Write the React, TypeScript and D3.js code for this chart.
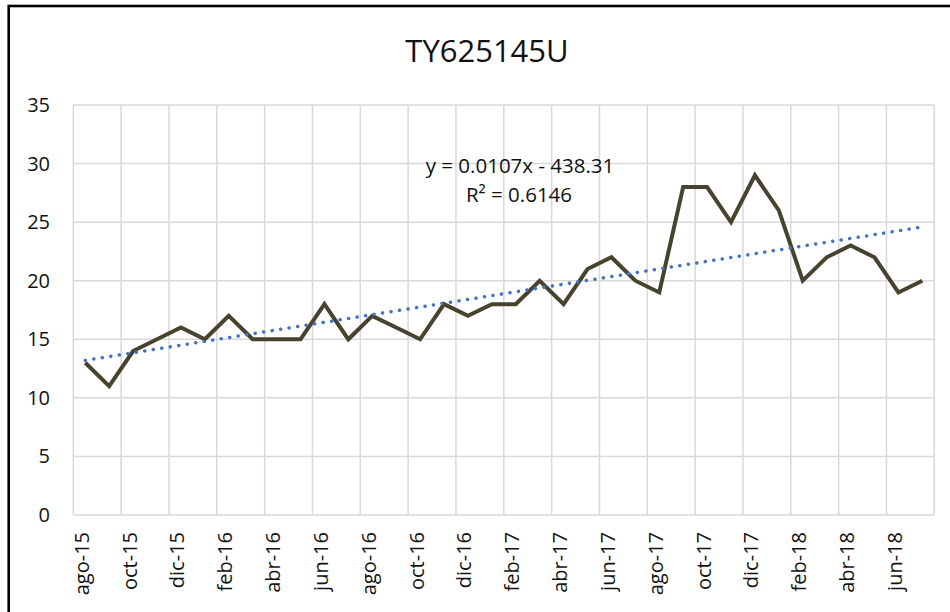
import React from "react";
import * as d3 from "d3";

const title = "TY625145U";
const months = [
  "ago-15","sep-15","oct-15","nov-15","dic-15","ene-16","feb-16","mar-16","abr-16","may-16","jun-16","jul-16",
  "ago-16","sep-16","oct-16","nov-16","dic-16","ene-17","feb-17","mar-17","abr-17","may-17","jun-17","jul-17",
  "ago-17","sep-17","oct-17","nov-17","dic-17","ene-18","feb-18","mar-18","abr-18","may-18","jun-18","jul-18",
];
const values = [
  13, 11, 14, 15, 16, 15, 17, 15, 15, 15, 18, 15,
  17, 16, 15, 18, 17, 18, 18, 20, 18, 21, 22, 20,
  19, 28, 28, 25, 29, 26, 20, 22, 23, 22, 19, 20,
];
const yTicks = [0, 5, 10, 15, 20, 25, 30, 35];
const equationText = "y = 0.0107x - 438.31";
const r2Text = "R² = 0.6146";

const W = 950;
const H = 612;
const plot = { left: 73.3, right: 934.3, top: 105, bottom: 515 };
const FONT = "'Open Sans', 'Noto Sans', sans-serif";

export default function App() {
  const x = d3.scaleBand<string>().domain(months).range([plot.left, plot.right]).padding(0);
  const y = d3.scaleLinear().domain([0, 35]).range([plot.bottom, plot.top]);
  const cx = (m: string) => (x(m) as number) + x.bandwidth() / 2;

  const line = d3
    .line<number>()
    .x((_, i) => cx(months[i]))
    .y((d) => y(d));

  // linear trend (least squares on index)
  const idx = values.map((_, i) => i);
  const mx = d3.mean(idx) as number;
  const my = d3.mean(values) as number;
  const slope =
    (d3.sum(idx, (i) => (i - mx) * (values[i] - my)) as number) /
    (d3.sum(idx, (i) => (i - mx) * (i - mx)) as number);
  const intercept = my - slope * mx;
  const trend = [0, months.length - 1].map((i) => ({ i, v: intercept + slope * i }));

  const vLines: number[] = [];
  for (let k = 0; k <= months.length; k += 2) vLines.push(plot.left + k * x.bandwidth());

  const labelMonths = months.filter((_, i) => i % 2 === 0);

  return (
    <svg
      width={W}
      height={H}
      style={{ position: "absolute", left: 0, top: 0, background: "#fff" }}
      fontFamily={FONT}
    >
      <rect x={0} y={0} width={W} height={H} fill="#fff" />
      <rect x={8.7} y={6} width={1200} height={900} fill="none" stroke="#000" strokeWidth={2.6} />

      <text x={487} y={62} textAnchor="middle" fontSize={31} fill="#111">
        {title}
      </text>

      {/* horizontal grid */}
      {yTicks.map((t) => (
        <line key={"h" + t} x1={plot.left} x2={plot.right} y1={y(t)} y2={y(t)} stroke="#d9d9d9" strokeWidth={1.5} />
      ))}
      {/* vertical grid */}
      {vLines.map((vx, k) => (
        <line key={"v" + k} x1={vx} x2={vx} y1={plot.top} y2={plot.bottom} stroke="#d9d9d9" strokeWidth={1.5} />
      ))}

      {/* y tick labels */}
      {yTicks.map((t) => (
        <text key={"yl" + t} x={50} y={y(t) + 7} textAnchor="end" fontSize={20} fill="#111">
          {t}
        </text>
      ))}

      {/* x tick labels */}
      {labelMonths.map((m) => (
        <text
          key={"xl" + m}
          transform={`translate(${cx(m) + 3.5},${532}) rotate(-90)`}
          textAnchor="end"
          fontSize={20}
          fill="#111"
        >
          {m}
        </text>
      ))}

      {/* data line */}
      <path d={line(values) as string} fill="none" stroke="#48432f" strokeWidth={4} strokeLinejoin="miter" />

      {/* trend line */}
      <line
        x1={cx(months[trend[0].i])}
        y1={y(trend[0].v)}
        x2={cx(months[trend[1].i])}
        y2={y(trend[1].v)}
        stroke="#4472c4"
        strokeWidth={3.5}
        strokeLinecap="round"
        strokeDasharray="0.1 8.5"
      />

      <text x={520} y={173} textAnchor="middle" fontSize={20.5} fill="#111">
        {equationText}
      </text>
      <text x={519} y={202} textAnchor="middle" fontSize={20.5} fill="#111">
        {r2Text}
      </text>
    </svg>
  );
}
